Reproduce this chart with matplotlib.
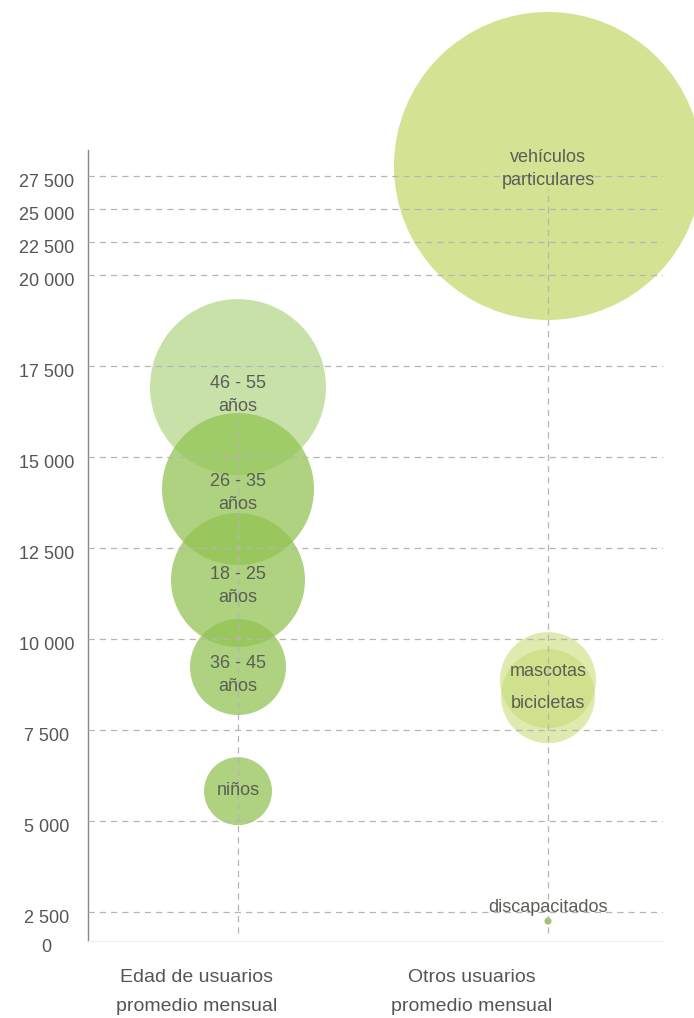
import numpy as np
import matplotlib
matplotlib.use("Agg")
from matplotlib import pyplot as plt
from matplotlib import transforms

plt.rcParams['font.family'] = ['Liberation Sans Narrow', 'Liberation Sans', 'DejaVu Sans']

# datos
columnas = ["Edad de usuarios\npromedio mensual", "Otros usuarios\npromedio mensual"]

edad_labels = ["46 - 55\naños", "26 - 35\naños", "18 - 25\naños", "36 - 45\naños", "niños"]
edad_valores = [16920, 14120, 11620, 9230, 5820]
edad_radio = [88, 76, 67, 48, 34]          # radio de burbuja (px)

otros_labels = ["vehículos\nparticulares", "mascotas", "bicicletas", "discapacitados"]
otros_valores = [28260, 8870, 8430, 1720]
otros_radio = [154, 48, 47, 3.5]

yticks = [0, 2500, 5000, 7500, 10000, 12500, 15000, 17500, 20000, 22500, 25000, 27500]

# escala vertical por tramos (como en el original)
knots_v = np.array([-2500, 0, 2500, 5000, 7500, 10000, 12500, 15000, 17500, 20000,
                    22500, 25000, 27500, 30000, 40000])
knots_p = np.array([-29, 0, 29, 120, 211, 302, 393, 484, 575, 666,
                    699, 732, 765, 798, 930])

def fwd(v):
    return np.interp(v, knots_v, knots_p)

def inv(p):
    return np.interp(p, knots_p, knots_v)

def size(r):
    return (2 * r * 0.72) ** 2

fig = plt.figure(figsize=(6.94, 10.18), dpi=100)
ax = fig.add_axes([88 / 694, 1 - 941 / 1018, (663 - 88) / 694, (941 - 150) / 1018])
ax.set_yscale('function', functions=(fwd, inv))
ax.set_ylim(0, 29470)
ax.set_xlim(-0.4839, 1.371)

# burbujas izquierda
edad_colores = ['#93c454'] * 5
edad_alpha = [0.5, 0.75, 0.75, 0.75, 0.75]
for v, r, c, a in zip(edad_valores, edad_radio, edad_colores, edad_alpha):
    ax.scatter([0], [v], s=size(r), color=c, alpha=a, edgecolors='none', zorder=2, clip_on=False)

# burbujas derecha
otros_colores = ['#c8dc78', '#c8dc78', '#c8dc78', '#9cc46a']
otros_alpha = [0.8, 0.6, 0.6, 1.0]
for v, r, c, a in zip(otros_valores, otros_radio, otros_colores, otros_alpha):
    ax.scatter([1], [v], s=size(r), color=c, alpha=a, edgecolors='none', zorder=2, clip_on=False)

# lineas guia
grid_kw = dict(color='#b5b5b5', lw=0.9, linestyle=(0, (5, 4)), zorder=3)
for t in yticks[1:]:
    ax.axhline(t, **grid_kw)
ax.vlines([0, 1], [700, 700], [16200, 26500], **grid_kw)

# etiquetas burbujas
txt_kw = dict(ha='center', va='center', fontsize=13, color='#5a5f55', zorder=4,
              linespacing=1.5)
edad_dy = [-8, -4, -6, -8, 1]
for v, lab, dy in zip(edad_valores, edad_labels, edad_dy):
    ax.annotate(lab, (0, v), xytext=(0, dy * 0.72), textcoords='offset points', **txt_kw)
otros_dy = [-3, 9, -7, 14]
for v, lab, dy in zip(otros_valores, otros_labels, otros_dy):
    ax.annotate(lab, (1, v), xytext=(0, dy * 0.72), textcoords='offset points', **txt_kw)

# ejes
ax.set_yticks(yticks)
ax.set_yticklabels([f"{t:,}".replace(",", " ") for t in yticks])
ax.tick_params(axis='y', length=0, pad=30, labelsize=13, labelcolor='#555555')
off = transforms.ScaledTranslation(0, -4 / 100, fig.dpi_scale_trans)
for lbl in ax.get_yticklabels():
    lbl.set_horizontalalignment('center')
    lbl.set_transform(lbl.get_transform() + off)
ax.set_xticks([])
for s in ['top', 'right']:
    ax.spines[s].set_visible(False)
ax.spines['left'].set_color('#888888')
ax.spines['left'].set_linewidth(1)
ax.spines['bottom'].set_color('#eeeeee')

# titulos de columnas
col_x = [-0.135, 0.755]
for x, t in zip(col_x, columnas):
    ax.text(x, -0.0645, t, transform=ax.get_xaxis_transform(), ha='center', va='center',
            fontsize=14, color='#555555', linespacing=1.85)

fig.savefig("out.png", dpi=100, facecolor='white')
